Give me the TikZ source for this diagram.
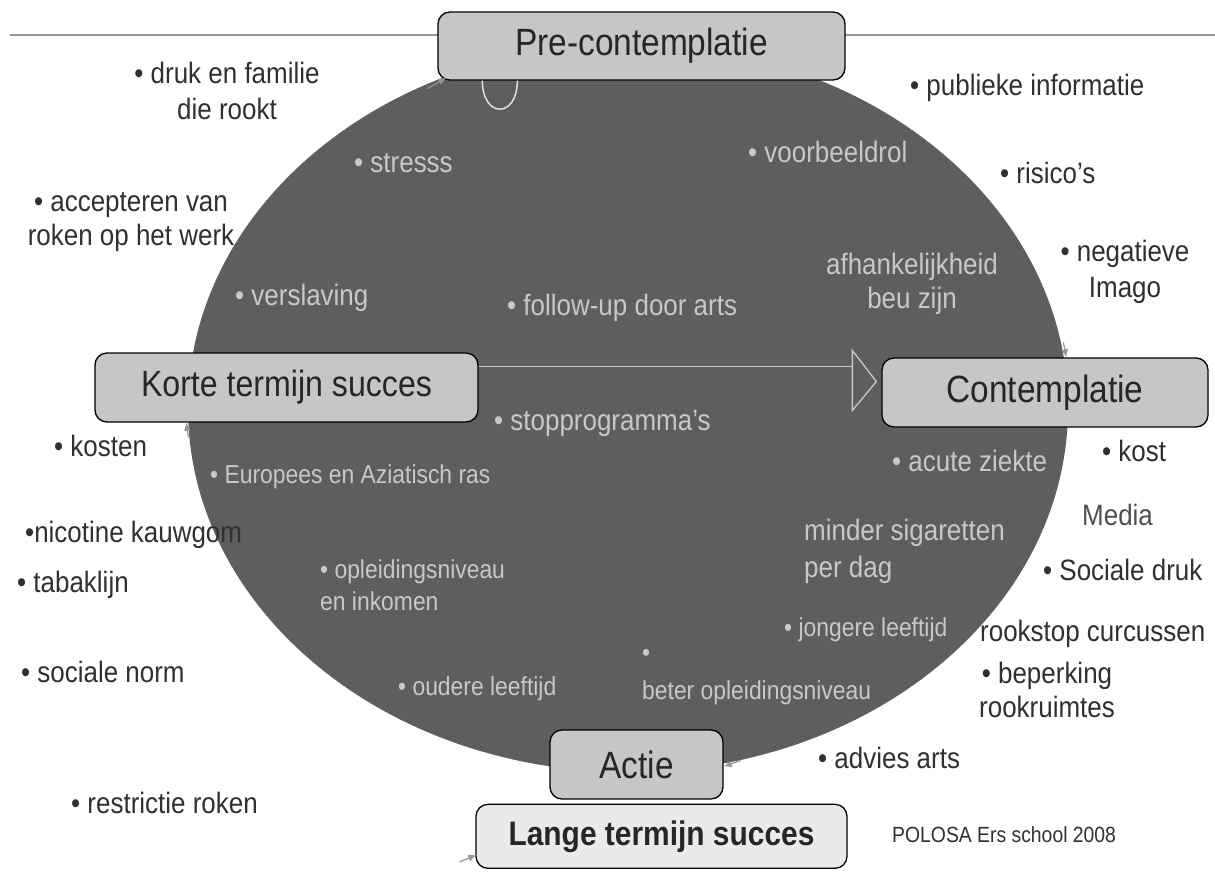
\documentclass[tikz,border=0pt]{standalone}
\usepackage{fontspec}
\setmainfont{Liberation Sans}[FakeStretch=0.88]
\usepackage{tikz}
\usetikzlibrary{positioning, arrows.meta, calc, shapes.geometric}

\definecolor{ovalgray}{RGB}{94,94,94}
\definecolor{boxgray}{RGB}{198,198,198}
\definecolor{lightbox}{RGB}{234,234,234}
\definecolor{intext}{RGB}{200,200,200}
\definecolor{outtext}{RGB}{48,48,48}
\definecolor{linegray}{RGB}{150,150,150}

\begin{document}
\begin{tikzpicture}[
    x=1pt, y=-1pt,
    oval/.style={ellipse, fill=ovalgray, minimum width=880pt, minimum height=728pt, inner sep=0pt},
    stage/.style={draw=black, line width=1.3pt, rounded corners=12pt, fill=boxgray,
                  inner sep=0pt, text=black!85, font=\fontsize{38}{44}\selectfont},
    laststage/.style={stage, fill=lightbox, font=\bfseries\fontsize{34}{40}\selectfont},
    outtxt/.style={inner sep=0pt, text=outtext, font=\fontsize{29.5}{35}\selectfont},
    intxt/.style={inner sep=0pt, text=intext, font=\fontsize{29.5}{35}\selectfont},
    intxtsm/.style={intxt, font=\fontsize{26}{32}\selectfont},
    flowline/.style={draw=intext, line width=1.3pt},
    cyclearr/.style={-{Latex[length=8pt, width=7pt]}, draw=linegray, line width=1.2pt},
]
\useasboundingbox (0,0) rectangle (1215,873);
\fill[white] (0,0) rectangle (1215,873);

% header rule and the big oval
\draw[linegray, line width=1.2pt] (10,35) -- (1215,35);
\node[oval] (oval) at (628,408) {};

% stages of the cycle
\node[stage, minimum width=407pt, minimum height=68pt] (precon) at (641.5,46) {Pre-contemplatie};
\node[stage, minimum width=383pt, minimum height=69pt, font=\fontsize{36.5}{42}\selectfont] (korte) at (286.5,387.5) {Korte termijn succes};
\node[stage, minimum width=326pt, minimum height=69pt] (contemplatie) at (1045,392.5) {Contemplatie};
\node[stage, minimum width=173pt, minimum height=69pt] (actie) at (636.5,764.5) {Actie};
\node[laststage, minimum width=371pt, minimum height=64pt, below=4pt of actie, xshift=25pt] (lange) {Lange termijn succes};

% open arrow across the oval
\draw[flowline] ($(korte.north east)+(0,14)$) -- ($(contemplatie.west |- korte.north east)+(-29,14)$);
\draw[flowline] ($(contemplatie.west)+(-29,-42)$) -- ($(contemplatie.west)+(-5,-11)$)
  -- ($(contemplatie.west)+(-29,18)$) -- cycle;

% small loop under Pre-contemplatie
\draw[white!88!black, line width=1.5pt] ($(precon.south west)+(45,0)$)
  .. controls +(0,38) and +(0,38) .. ($(precon.south west)+(80,0)$);

% cycle arrow heads along the oval
\draw[cyclearr] ($(precon.south west)+(-10,8)$) -- ($(precon.south west)+(9,-3)$);
\draw[cyclearr] ($(contemplatie.north west)+(182,-15)$) -- ($(contemplatie.north west)+(185,0)$);
\draw[cyclearr] ($(actie.east)+(17,-4)$) -- ($(actie.east)+(0,2)$);
\draw[cyclearr] ($(korte.south west)+(94,15)$) -- ($(korte.south west)+(92,0)$);
\draw[cyclearr] ($(lange.south west)+(-16,-7)$) -- ($(lange.south west)+(1,-14)$);

% factors inside the oval
\node[intxt, anchor=base west] (stress) at (354,172) {• stresss};
\node[intxt, anchor=base west] (voorbeeld) at (748,162) {• voorbeeldrol};
\node[intxt, anchor=base west] (verslaving) at (235,305) {• verslaving};
\node[intxt, anchor=base west] (followup) at (507,315) {• follow-up door arts};
\node[intxt, align=center, anchor=north, font=\fontsize{29.5}{34}\selectfont] (afhank) at (912,252.5) {afhankelijkheid\\beu zijn};
\node[intxt, anchor=base west] (stopprog) at (494,430) {• stopprogramma’s};
\node[intxt, anchor=base west] (acuut) at (892,471) {• acute ziekte};
\node[intxtsm, anchor=base west] (ras) at (210,483) {• Europees en Aziatisch ras};
\node[intxt, align=left, anchor=north west, font=\fontsize{29.5}{37}\selectfont] (minder) at (804,518.6) {minder sigaretten\\per dag};
\node[intxtsm, align=left, anchor=north west] (opleiding) at (320,559.1) {• opleidingsniveau\\en inkomen};
\node[intxtsm, anchor=base west] (jonger) at (784,636) {• jongere leeftijd};
\node[intxtsm, align=left, anchor=south west] (beter) at (642,705.5) {•\\[6pt]beter opleidingsniveau};
\node[intxtsm, anchor=base west] (ouder) at (398,695) {• oudere leeftijd};

% factors outside, left
\node[outtxt, align=center, anchor=north, font=\fontsize{29.5}{36}\selectfont] (druk) at (227,61.5) {• druk en familie\\die rookt};
\node[outtxt, align=center, anchor=north, font=\fontsize{29.5}{34}\selectfont] (accept) at (131,192.6) {• accepteren van\\roken op het werk};
\node[outtxt, anchor=base west] (kosten) at (54,456) {• kosten};
\node[outtxt, anchor=base west] (nicotine) at (25,542) {•nicotine kauwgom};
\node[outtxt, anchor=base west] (tabak) at (17,592) {• tabaklijn};
\node[outtxt, anchor=base west] (norm) at (21,682) {• sociale norm};
\node[outtxt, anchor=base west] (restrictie) at (71,813) {• restrictie roken};

% factors outside, right
\node[outtxt, anchor=base west] (publiek) at (910,95) {• publieke informatie};
\node[outtxt, anchor=base west] (risico) at (1000,183) {• risico’s};
\node[outtxt, align=center, anchor=north, font=\fontsize{29.5}{36}\selectfont] (imago) at (1125,239.6) {• negatieve\\Imago};
\node[outtxt, anchor=base west] (kost) at (1102,461) {• kost};
\node[outtxt, anchor=base west, text=outtext!85!white] (media) at (1082,525) {Media};
\node[outtxt, anchor=base west] (sociaal) at (1043,580) {• Sociale druk};
\node[outtxt, anchor=base west] (rookstop) at (980,641) {rookstop curcussen};
\node[outtxt, align=center, anchor=north, font=\fontsize{29.5}{34}\selectfont] (beperking) at (1047,661.6) {• beperking\\rookruimtes};
\node[outtxt, anchor=base west] (advies) at (818,768) {• advies arts};
\node[outtxt, anchor=base west, font=\fontsize{22}{26}\selectfont] (bron) at (892,842) {POLOSA Ers school 2008};

\end{tikzpicture}
\end{document}
